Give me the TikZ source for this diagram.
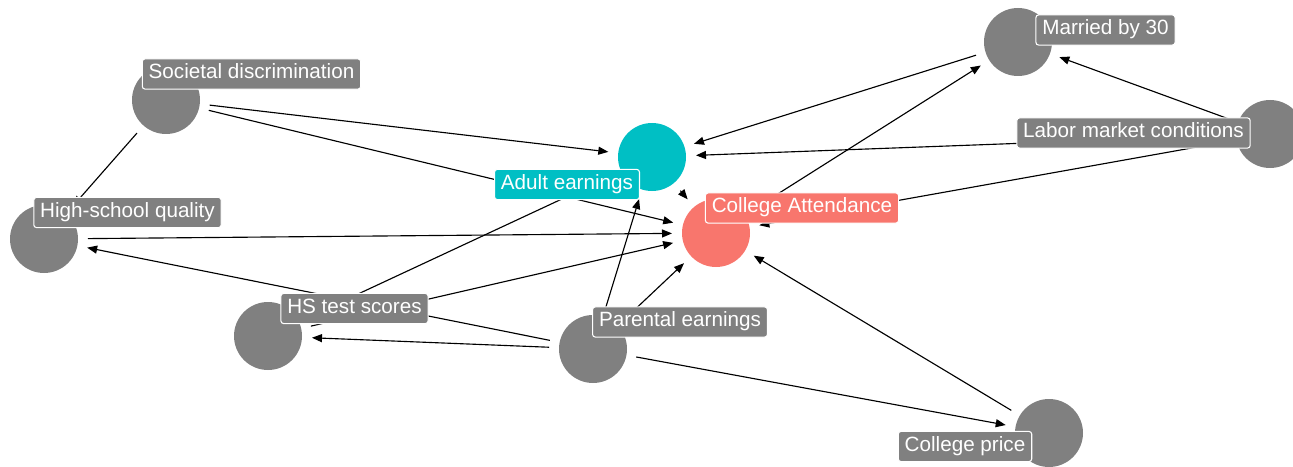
\documentclass[tikz,border=0pt]{standalone}
\usepackage{fontspec}
\setmainfont{Liberation Sans}
\usetikzlibrary{arrows.meta}
\definecolor{dgray}{RGB}{128,128,128}
\definecolor{dcyan}{RGB}{0,191,196}
\definecolor{dsalmon}{RGB}{248,118,109}
\tikzset{
  circ/.style={circle, fill=#1, draw=none, minimum size=51pt, inner sep=0pt},
  lab/.style={fill=#1, draw=white, line width=0.8pt, rounded corners=2pt, text=white,
    font=\fontsize{15.5}{18}\selectfont, text height=11pt, text depth=4pt,
    inner xsep=4.8pt, inner ysep=3.8pt},
  edge/.style={line width=0.85pt, -{Triangle[length=7.5pt,width=6pt]}, shorten >=33pt, shorten <=33pt}
}
\begin{document}
\begin{tikzpicture}[x=0.75pt,y=-0.75pt]
\useasboundingbox (0,0) rectangle (1293,467);
% circles (centres)
\node[circ=dgray] (soc) at (166,100) {};
\node[circ=dcyan] (ae) at (652,157) {};
\node[circ=dsalmon] (ca) at (716,233) {};
\node[circ=dgray] (hsq) at (44,239) {};
\node[circ=dgray] (hst) at (268,336) {};
\node[circ=dgray] (pe) at (593,349) {};
\node[circ=dgray] (mar) at (1018,42) {};
\node[circ=dgray] (lab) at (1270,134) {};
\node[circ=dgray] (cp) at (1049,433) {};
% edges
\draw[edge] (soc.center) -- (ae.center);
\draw[edge] (soc.center) -- (ca.center);
\draw[edge] (soc.center) -- (hsq.center);
\draw[edge] (hsq.center) -- (ca.center);
\draw[edge] (pe.center) -- (hsq.center);
\draw[edge] (pe.center) -- (hst.center);
\draw[edge] (hst.center) -- (ae.center);
\draw[edge] (hst.center) -- (ca.center);
\draw[edge] (ae.center) -- (ca.center);
\draw[edge] (pe.center) -- (ae.center);
\draw[edge] (pe.center) -- (ca.center);
\draw[edge] (pe.center) -- (cp.center);
\draw[edge] (mar.center) -- (ae.center);
\draw[edge] (ca.center) -- (mar.center);
\draw[edge] (lab.center) -- (ae.center);
\draw[edge] (lab.center) -- (ca.center);
\draw[edge] (lab.center) -- (mar.center);
\draw[edge] (cp.center) -- (ca.center);
% labels
\node[lab=dgray] (lsoc) at (251.5,74) {Societal discrimination};
\node[lab=dcyan] (lae) at (567,184.5) {Adult earnings};
\node[lab=dsalmon] (lca) at (802,208) {College Attendance};
\node[lab=dgray] (lhsq) at (127.5,212.5) {High-school quality};
\node[lab=dgray] (lhst) at (354.5,308.5) {HS test scores};
\node[lab=dgray] (lpe) at (680,322) {Parental earnings};
\node[lab=dgray] (lmar) at (1105.5,30) {Married by 30};
\node[lab=dgray] (llab) at (1133.5,133) {Labor market conditions};
\node[lab=dgray] (lcp) at (965,446.5) {College price};
\end{tikzpicture}
\end{document}
